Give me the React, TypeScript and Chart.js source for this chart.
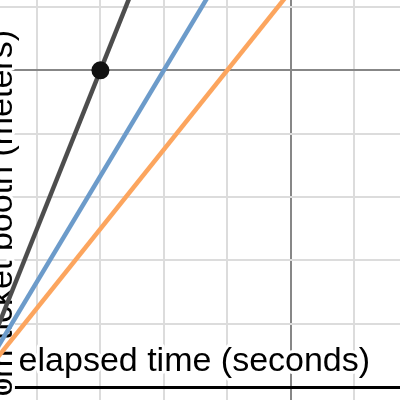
import React, { useEffect, useRef } from 'react';
import { Chart, registerables } from 'chart.js';

Chart.register(...registerables);

// Data (grid units: one minor grid square = 1 unit on each axis)
const timeSeconds = [0, 8];
const blackDistance = [0, 20];
const blueDistance = [0, 13.333];
const orangeDistance = [0, 10];
const pointTime = [2];
const pointDistance = [5];

// Visible window of the graph
const xRange = [0.4164, 6.7256];
const yRange = [-0.2003, 6.1088];

const xTitle = 'elapsed time (seconds)';
const yTitle = 'distance from ticket booth (meters)';

const MINOR = 'rgb(220,220,220)';
const MAJOR = 'rgb(135,135,135)';

const labelsPlugin = {
  id: 'axisLabels',
  beforeDatasetsDraw(chart: any) {
    const ctx = chart.ctx as CanvasRenderingContext2D;
    ctx.save();
    ctx.font = '34px "Liberation Sans", Arial, sans-serif';
    ctx.textBaseline = 'alphabetic';
    ctx.lineJoin = 'round';
    ctx.lineWidth = 6;
    ctx.strokeStyle = '#fff';
    ctx.fillStyle = '#000';
    ctx.textAlign = 'left';
    ctx.strokeText(xTitle, 18.6, 371);
    ctx.fillText(xTitle, 18.6, 371);
    ctx.translate(12, 30);
    ctx.rotate(-Math.PI / 2);
    ctx.textAlign = 'right';
    ctx.strokeText(yTitle, 0, 0);
    ctx.fillText(yTitle, 0, 0);
    ctx.restore();
  },
};

const integerTicks = (s: any) => {
  const lo = Math.ceil(s.min);
  const hi = Math.floor(s.max);
  const t: any[] = [];
  for (let v = lo; v <= hi; v++) t.push({ value: v });
  s.ticks = t;
};

const pts = (xs: number[], ys: number[]) => xs.map((x, i) => ({ x, y: ys[i] }));

export default function App() {
  const ref = useRef<HTMLCanvasElement>(null);
  useEffect(() => {
    if (!ref.current) return;
    const lineDs = (data: number[], color: string, order: number) => ({
      type: 'scatter' as const,
      data: pts(timeSeconds, data),
      showLine: true,
      borderColor: color,
      borderWidth: 4.5,
      pointRadius: 0,
      pointHoverRadius: 0,
      fill: false,
      order,
    });
    const chart = new Chart(ref.current, {
      type: 'scatter',
      data: {
        datasets: [
          {
            data: pts(pointTime, pointDistance),
            pointRadius: 9,
            backgroundColor: '#111',
            borderWidth: 0,
            order: 0,
          } as any,
          lineDs(blackDistance, '#4d4d4d', 1),
          lineDs(blueDistance, '#6c9bca', 2),
          lineDs(orangeDistance, '#fca55e', 3),
        ],
      },
      options: {
        responsive: false,
        animation: false,
        layout: { padding: 0, autoPadding: false },
        plugins: { legend: { display: false }, tooltip: { enabled: false }, title: { display: false } },
        scales: {
          x: {
            type: 'linear',
            min: xRange[0],
            max: xRange[1],
            afterBuildTicks: integerTicks,
            ticks: { display: false, stepSize: 1 },
            border: { display: false },
            grid: {
              drawTicks: false,
              z: -2,
              color: (c: any) => (c.tick && c.tick.value % 5 === 0 ? MAJOR : MINOR),
              lineWidth: 2,
            },
          },
          y: {
            type: 'linear',
            min: yRange[0],
            max: yRange[1],
            afterBuildTicks: integerTicks,
            ticks: { display: false, stepSize: 1 },
            border: { display: false },
            grid: {
              drawTicks: false,
              z: -1,
              color: (c: any) =>
                c.tick && c.tick.value === 0 ? '#000' : c.tick && c.tick.value % 5 === 0 ? MAJOR : MINOR,
              lineWidth: (c: any) => (c.tick && c.tick.value === 0 ? 3 : 2),
            },
          },
        },
      },
      plugins: [labelsPlugin],
    });
    return () => chart.destroy();
  }, []);
  return (
    <div style={{ position: 'absolute', left: 0, top: 0, width: 400, height: 400 }}>
      <canvas ref={ref} width={400} height={400} style={{ display: 'block' }} />
    </div>
  );
}
